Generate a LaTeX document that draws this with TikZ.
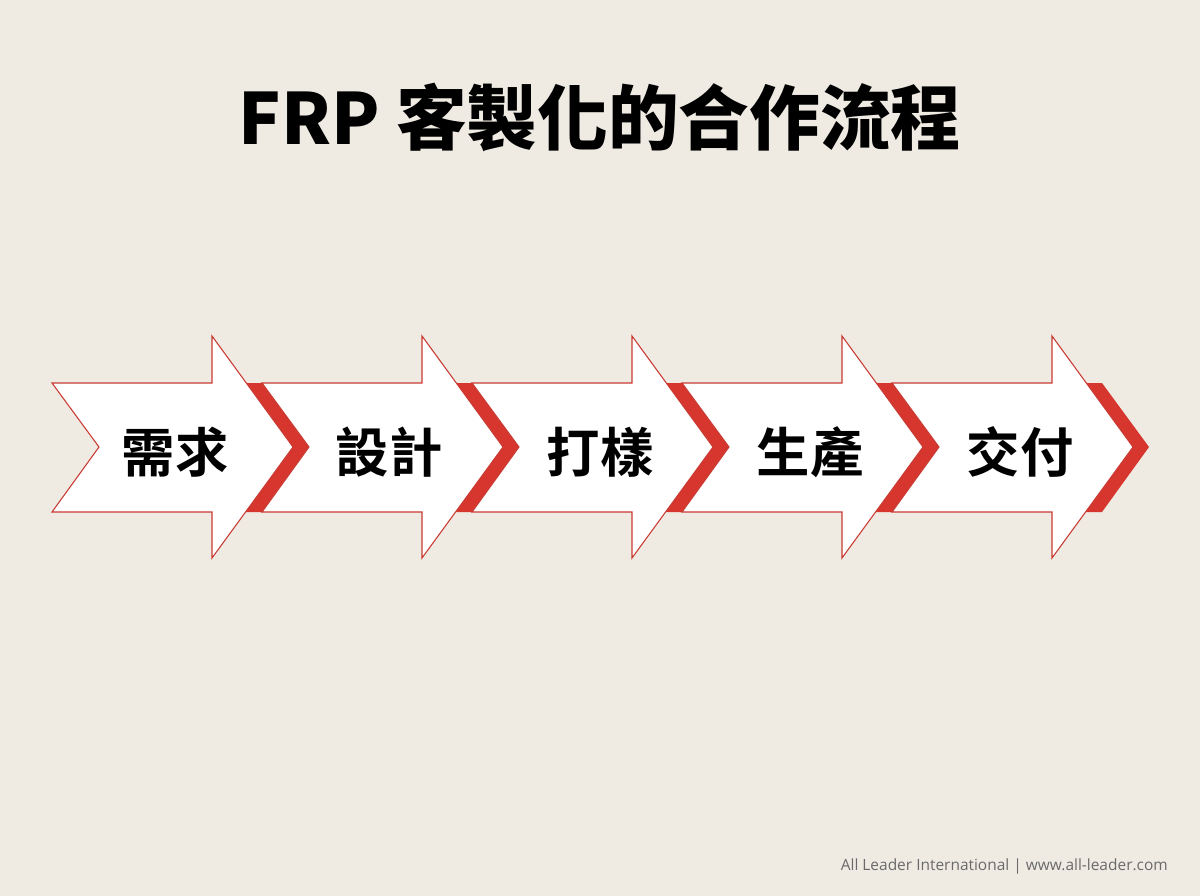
\documentclass[tikz,border=0pt]{standalone}
\usepackage{fontspec}
\newfontfamily\cjk{Noto Sans CJK TC}[BoldFont={Noto Sans CJK TC Bold}]
\newfontfamily\cjkblack{Noto Sans CJK TC Black}
\newfontfamily\footfont{Open Sans}
\definecolor{bg}{HTML}{EFEBE3}
\definecolor{band}{HTML}{D6362D}
\definecolor{edge}{HTML}{C93A33}
\definecolor{foot}{HTML}{6A6A6A}
\begin{document}
\begin{tikzpicture}[x=0.75pt,y=-0.75pt,
  arrowshape/.style={fill=white,draw=edge,line width=0.8pt,line join=miter},
  bandshape/.style={fill=band,draw=none},
  steplabel/.style={font=\cjk\bfseries\fontsize{40}{42}\selectfont,text=black,inner sep=0pt},
]
\fill[bg] (0,0) rectangle (1200,896);
\useasboundingbox (0,0) rectangle (1200,896);
\node[font=\cjkblack\fontsize{53}{56}\selectfont,inner sep=0pt] (title) at (600,117) {FRP 客製化的合作流程};
% red chevron bands
\foreach \x in {262,472,682,892,1102}{
  \path[bandshape] (\x-22,383) -- (\x,383) -- (\x+47,447) -- (\x,512) -- (\x-22,512) -- (\x+25,447) -- cycle;
}
% arrows
\foreach \x in {52,262,472,682,892}{
  \path[arrowshape] (\x,383) -- (\x+160,383) -- (\x+160,336) -- (\x+241,447) -- (\x+160,558) -- (\x+160,512) -- (\x,512) -- (\x+47,447) -- cycle;
}
\node[steplabel] (s1) at (175,452) {需求};
\node[steplabel] (s2) at (389,452) {設計};
\node[steplabel] (s3) at (600,452) {打樣};
\node[steplabel] (s4) at (810,452) {生產};
\node[steplabel] (s5) at (1020,452) {交付};
\node[font=\footfont\fontsize{11.6}{14}\selectfont,text=foot,anchor=east,inner sep=0pt] (footer) at (1168,866) {All Leader International | www.all-leader.com};
\end{tikzpicture}
\end{document}
